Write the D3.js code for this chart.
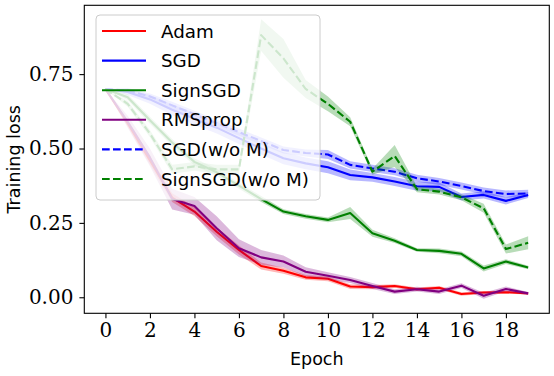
<!DOCTYPE html>
<html><head><meta charset="utf-8">
<script src="https://cdn.jsdelivr.net/npm/d3@7"></script>
<style>html,body{margin:0;padding:0;background:#fff;}svg{display:block;}</style>
</head><body>
<svg id="chart" width="554" height="376"></svg>
<script>
const epochs = d3.range(0, 20);
const seriesNames = ["Adam", "SGD", "SignSGD", "RMSprop", "SGD(w/o M)", "SignSGD(w/o M)"];
const seriesColors = ["red", "blue", "green", "purple", "blue", "green"];
const seriesDashed = [false, false, false, false, true, true];

const adam = [0.70, 0.585, 0.46, 0.335, 0.288, 0.22, 0.159, 0.105, 0.089, 0.067, 0.062, 0.036, 0.034, 0.038, 0.027, 0.032, 0.011, 0.016, 0.017, 0.013];
const adamStd = [0, 0.012, 0.015, 0.015, 0.015, 0.015, 0.015, 0.012, 0.01, 0.008, 0.008, 0.008, 0.007, 0.006, 0.006, 0.006, 0.006, 0.005, 0.005, 0.004];
const sgd = [0.70, 0.69, 0.665, 0.63, 0.60, 0.57, 0.535, 0.50, 0.467, 0.45, 0.437, 0.411, 0.403, 0.389, 0.373, 0.371, 0.337, 0.344, 0.324, 0.344];
const sgdStd = [0, 0.01, 0.015, 0.018, 0.02, 0.02, 0.02, 0.02, 0.02, 0.02, 0.02, 0.018, 0.015, 0.015, 0.015, 0.015, 0.012, 0.012, 0.012, 0.01];
const signsgd = [0.70, 0.672, 0.595, 0.52, 0.455, 0.42, 0.375, 0.33, 0.288, 0.272, 0.26, 0.283, 0.215, 0.19, 0.159, 0.156, 0.146, 0.097, 0.12, 0.10];
const signsgdStd = [0, 0.01, 0.012, 0.012, 0.012, 0.012, 0.01, 0.01, 0.008, 0.008, 0.008, 0.02, 0.012, 0.008, 0.006, 0.008, 0.008, 0.01, 0.008, 0.006];
const rmsprop = [0.70, 0.59, 0.47, 0.33, 0.307, 0.232, 0.165, 0.134, 0.12, 0.086, 0.072, 0.058, 0.038, 0.019, 0.027, 0.019, 0.039, 0.005, 0.028, 0.013];
const rmspropStd = [0, 0.02, 0.03, 0.035, 0.03, 0.04, 0.03, 0.025, 0.02, 0.015, 0.012, 0.01, 0.01, 0.008, 0.008, 0.008, 0.008, 0.01, 0.008, 0.005];
const sgdNoM = [0.70, 0.695, 0.675, 0.645, 0.615, 0.585, 0.555, 0.525, 0.495, 0.485, 0.48, 0.445, 0.433, 0.422, 0.40, 0.389, 0.374, 0.357, 0.347, 0.349];
const sgdNoMStd = [0, 0.008, 0.01, 0.012, 0.012, 0.012, 0.012, 0.012, 0.012, 0.012, 0.015, 0.012, 0.012, 0.012, 0.012, 0.012, 0.012, 0.012, 0.012, 0.012];
const signsgdNoM = [0.70, 0.65, 0.55, 0.43, 0.44, 0.43, 0.43, 0.881, 0.803, 0.70, 0.65, 0.59, 0.422, 0.475, 0.363, 0.355, 0.336, 0.299, 0.162, 0.183];
const signsgdNoMStd = [0, 0.01, 0.012, 0.015, 0.015, 0.015, 0.015, 0.053, 0.065, 0.03, 0.025, 0.015, 0.01, 0.037, 0.01, 0.01, 0.01, 0.015, 0.015, 0.022];

const xTicks = [0, 2, 4, 6, 8, 10, 12, 14, 16, 18];
const yTicks = [0.00, 0.25, 0.50, 0.75];
const xLabel = "Epoch";
const yLabel = "Training loss";

const seriesValues = [adam, sgd, signsgd, rmsprop, sgdNoM, signsgdNoM];
const seriesStd = [adamStd, sgdStd, signsgdStd, rmspropStd, sgdNoMStd, signsgdNoMStd];

const L = 84.3, R = 549.3, T = 5.3, B = 313.3;
const svg = d3.select("#chart");
const x = d3.scaleLinear().domain([-0.95, 19.95]).range([L, R]);
const y = d3.scaleLinear().domain([-0.0539, 0.9813]).range([B, T]);

svg.append("defs").append("clipPath").attr("id", "clip")
  .append("rect").attr("x", L).attr("y", T).attr("width", R - L).attr("height", B - T);

const plot = svg.append("g").attr("clip-path", "url(#clip)");

const area = d3.area().x((d) => x(d.e)).y0((d) => y(d.v - d.s)).y1((d) => y(d.v + d.s));
const line = d3.line().x((d) => x(d.e)).y((d) => y(d.v));

seriesNames.forEach((name, i) => {
  const data = epochs.map((e, j) => ({ e: e, v: seriesValues[i][j], s: seriesStd[i][j] }));
  plot.append("path").attr("d", area(data)).attr("fill", seriesColors[i]).attr("fill-opacity", 0.28).attr("stroke", "none");
  plot.append("path").attr("d", line(data)).attr("fill", "none").attr("stroke", seriesColors[i])
    .attr("stroke-width", 2.1).attr("stroke-linejoin", "round")
    .attr("stroke-dasharray", seriesDashed[i] ? "7.7,3.3" : null);
});

// axes
const xAxis = d3.axisBottom(x).tickValues(xTicks).tickSize(4.9).tickPadding(5).tickFormat(d3.format("d"));
const gx = svg.append("g").attr("transform", `translate(0,${B})`).call(xAxis);
gx.select(".domain").remove();
gx.selectAll("line").attr("stroke", "#000").attr("stroke-width", 1.1);
gx.selectAll("text").attr("font-family", "'DejaVu Serif', serif").attr("font-size", 20).attr("fill", "#000");

const yAxis = d3.axisLeft(y).tickValues(yTicks).tickSize(4.9).tickPadding(6).tickFormat(d3.format(".2f"));
const gy = svg.append("g").attr("transform", `translate(${L},0)`).call(yAxis);
gy.select(".domain").remove();
gy.selectAll("line").attr("stroke", "#000").attr("stroke-width", 1.1);
gy.selectAll("text").attr("font-family", "'DejaVu Serif', serif").attr("font-size", 20).attr("fill", "#000");

svg.append("rect").attr("x", L).attr("y", T).attr("width", R - L).attr("height", B - T)
  .attr("fill", "none").attr("stroke", "#000").attr("stroke-width", 1.1);

svg.append("text").attr("x", (L + R) / 2).attr("y", 365).attr("text-anchor", "middle")
  .attr("font-family", "'DejaVu Sans', sans-serif").attr("font-size", 17.5).text(xLabel);
svg.append("text").attr("transform", `translate(19.5,${(T + B) / 2}) rotate(-90)`).attr("text-anchor", "middle")
  .attr("font-family", "'DejaVu Sans', sans-serif").attr("font-size", 17.5).text(yLabel);

// legend
const leg = svg.append("g");
leg.append("rect").attr("x", 96).attr("y", 15).attr("width", 224).attr("height", 185).attr("rx", 4)
  .attr("fill", "#fff").attr("fill-opacity", 0.8).attr("stroke", "#cccccc").attr("stroke-width", 1);
seriesNames.forEach((name, i) => {
  const yy = 31 + i * 29.6;
  leg.append("line").attr("x1", 102).attr("x2", 146).attr("y1", yy).attr("y2", yy)
    .attr("stroke", seriesColors[i]).attr("stroke-width", 2.1)
    .attr("stroke-dasharray", seriesDashed[i] ? "7.7,3.3" : null);
  leg.append("text").attr("x", 161).attr("y", yy + 6.5)
    .attr("font-family", "'DejaVu Sans', sans-serif").attr("font-size", 18.3).text(name);
});
</script>
</body></html>
